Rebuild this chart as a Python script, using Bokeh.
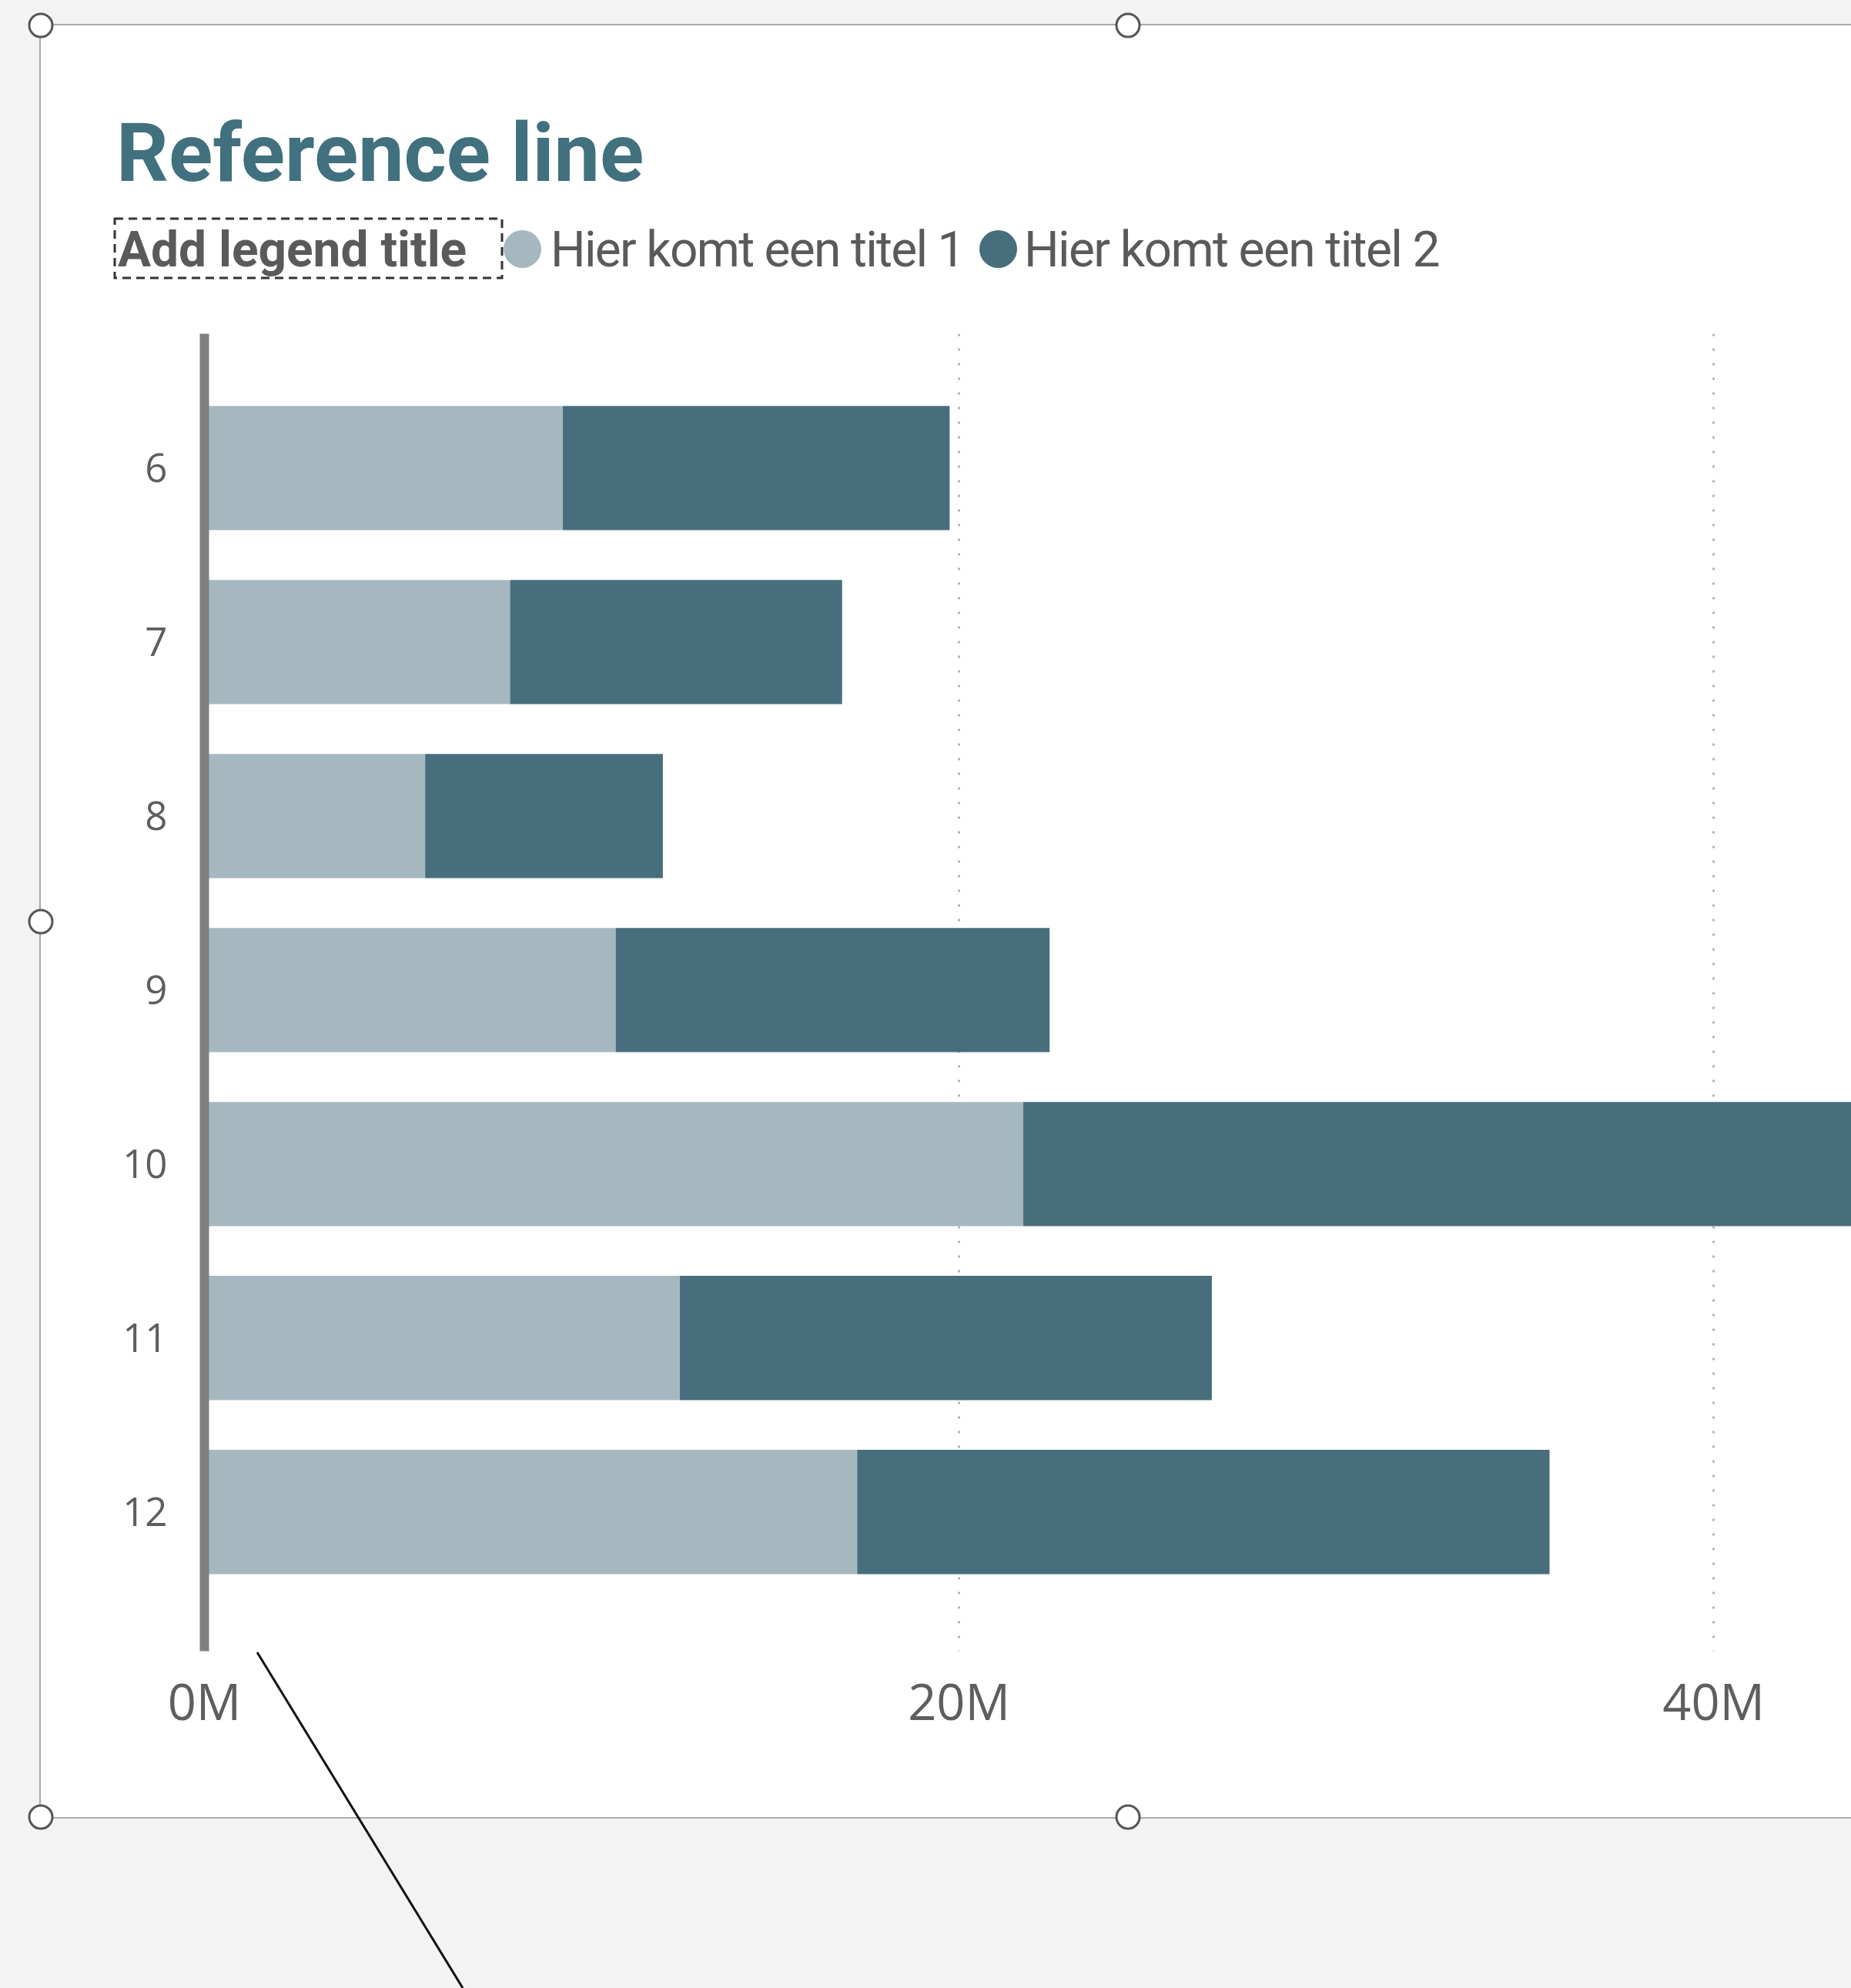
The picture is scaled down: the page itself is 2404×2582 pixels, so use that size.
from bokeh.plotting import figure
from bokeh.models import Range1d, FixedTicker, CustomJSTickFormatter, ColumnDataSource, Div
from bokeh.layouts import column
from bokeh.embed import file_html
from bokeh.resources import INLINE

# ---- data ----
categories = [6, 7, 8, 9, 10, 11, 12]
series1 = [9.5e6, 8.1e6, 5.85e6, 10.9e6, 21.7e6, 12.6e6, 17.3e6]
series2 = [10.25e6, 8.8e6, 6.3e6, 11.5e6, 24.3e6, 14.1e6, 18.35e6]
series_names = ["Hier komt een titel 1", "Hier komt een titel 2"]
series_colors = ["#a6b8bf", "#476e7d"]
x_ticks = [0, 20e6, 40e6]
title_text = "Reference line"
legend_title = "Add legend title"

TEXT = "#5a5a5a"
W = 2351
HEADER_H = 387
CARD_X, CARD_Y = 53, 33

# ---- header (title + legend) as HTML ----
def txt(s, left, top, size, color, weight=400, ls=0):
    return (f'<div style="position:absolute;left:{left}px;top:{top}px;font-family:Roboto;'
            f'font-weight:{weight};font-size:{size}px;line-height:1;color:{color};'
            f'letter-spacing:{ls}px;white-space:nowrap;">{s}</div>')

def dot(cx, cy, d, color):
    return (f'<div style="position:absolute;left:{cx - d / 2}px;top:{cy - d / 2}px;width:{d}px;'
            f'height:{d}px;border-radius:50%;background:{color};"></div>')

# editor selection handles and pointer line seen in the screenshot (page coordinates)
handles = [(53, 33), (1465, 33), (53, 1197), (53, 2360), (1465, 2360)]
overlay = (f'<svg style="position:absolute;left:{-CARD_X}px;top:{-CARD_Y}px;z-index:10;'
           f'pointer-events:none;overflow:visible;" width="2404" height="2582">'
           + '<line x1="334" y1="2146" x2="601" y2="2582" stroke="#111" stroke-width="3"/>'
           + "".join(f'<circle cx="{hx}" cy="{hy}" r="15" fill="white" stroke="#555" '
                     f'stroke-width="3"/>' for hx, hy in handles)
           + '</svg>')

html = (f'<div style="position:relative;width:{W}px;height:{HEADER_H}px;background:white;">'
        + txt(title_text, 98, 113, 106, "#41707f", 700)
        + '<svg style="position:absolute;left:94px;top:249px;" width="508" height="82">'
          '<rect x="2" y="2" width="503" height="77" fill="none" stroke="#333" '
          'stroke-width="3" stroke-dasharray="11 7"/></svg>'
        + txt(legend_title, 100, 260, 64, TEXT, 700)
        + dot(625, 290, 49, series_colors[0])
        + txt(series_names[0], 662, 260, 64, TEXT, 400, -1.7)
        + dot(1243, 290, 49, series_colors[1])
        + txt(series_names[1], 1277, 260, 64, TEXT, 400, -1.6)
        + overlay
        + '</div>')
header = Div(text=html, width=W, height=HEADER_H, margin=0, styles={"overflow": "visible"})

# ---- main chart ----
src = ColumnDataSource(dict(cat=categories, s1=series1, s2=series2))
p = figure(width=W, height=1940, output_backend="svg", toolbar_location=None,
           x_range=Range1d(-0.306e6, 43.65e6), y_range=Range1d(12.80, 5.228),
           min_border_left=197, min_border_right=0, min_border_top=13, min_border_bottom=216,
           margin=0)
p.outline_line_color = None
p.border_fill_color = "white"
p.background_fill_color = "white"

p.hbar_stack(["s1", "s2"], y="cat", height=0.714, color=series_colors, line_color=None,
             source=src)

p.segment(x0=[0], x1=[0], y0=[12.80], y1=[5.228], line_color="#7f7f7f", line_width=12,
          line_cap="round")

p.ygrid.visible = False
p.xgrid.ticker = FixedTicker(ticks=x_ticks[1:])
p.xgrid.grid_line_color = "#b5b5b5"
p.xgrid.grid_line_width = 3
p.xgrid.grid_line_dash = "3 16"

p.xaxis.ticker = FixedTicker(ticks=x_ticks)
p.xaxis.formatter = CustomJSTickFormatter(code="return (tick/1e6).toFixed(0) + 'M';")
p.yaxis.ticker = FixedTicker(ticks=categories)
for ax in (p.xaxis, p.yaxis):
    ax.axis_line_color = None
    ax.major_tick_line_color = None
    ax.minor_tick_line_color = None
    ax.major_label_text_font = "Open Sans"
    ax.major_label_text_color = "#5e5e5e"
p.xaxis.major_label_text_font_size = "65px"
p.xaxis.major_label_standoff = 14
p.yaxis.major_label_text_font_size = "51px"
p.yaxis.major_label_standoff = 27

card = column(header, p, margin=(CARD_Y, 0, 0, CARD_X), spacing=0,
              styles={"outline": "2px solid #a9a9a9", "background-color": "white",
                      "overflow": "visible"})
page = column(card, width=2404, height=2582, margin=0,
              styles={"background-color": "#f3f3f3", "overflow": "hidden"})

open("out.html", "w").write(file_html(page, INLINE))
